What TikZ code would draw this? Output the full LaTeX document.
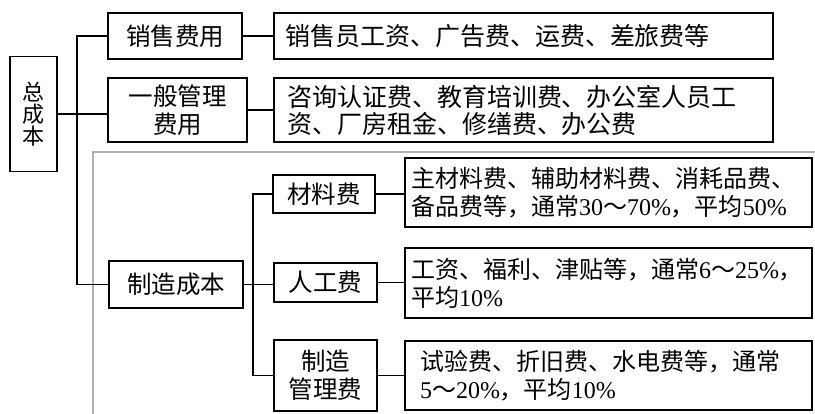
\documentclass[tikz,border=0pt]{standalone}
\usepackage{fontspec}
\setmainfont{Liberation Serif}
\newfontfamily\cjk{Noto Sans CJK SC}
\newcommand\lat[1]{{\rmfamily #1}}
\begin{document}
\begin{tikzpicture}[x=1pt,y=-1pt,
  bx/.style={draw, line width=1.4pt, inner sep=0pt, align=center,
    font=\cjk\fontsize{24.5}{28}\selectfont},
  dt/.style={bx, align=left, font=\cjk\fontsize{24}{28}\selectfont},
  dtw/.style={bx, align=left, font=\cjk\fontsize{25}{27}\selectfont},
  ln/.style={line width=1.4pt},
  frame/.style={draw=black!30, line width=1.8pt}]
\useasboundingbox (0,0) rectangle (815,414);
\fill[white] (0,0) rectangle (815,414);
% gray frame around manufacturing cost
\draw[frame] (93,152) rectangle (840,440);
% left column
\node[bx, minimum width=47, minimum height=115,
      font=\cjk\fontsize{22}{22}\selectfont] (zcb) at (33.5,114) {总\\成\\本};
\node[bx, minimum width=134, minimum height=46] (xsfy) at (175,36) {销售费用};
\node[bx, minimum width=139, minimum height=64] (glfy) at (177.5,110) {一般管理\\费用};
\node[bx, minimum width=134, minimum height=47] (zzcb) at (176,284.5) {制造成本};
% detail boxes
\node[dtw, text width=477, inner xsep=11pt, minimum height=46] (d1) at (523.5,36)
  {销售员工资、广告费、运费、差旅费等};
\node[dtw, text width=473, inner xsep=13pt, minimum height=64] (d2) at (523.5,110)
  {咨询认证费、教育培训费、办公室人员工\\资、厂房租金、修缮费、办公费};
% manufacturing sub-items
\node[bx, minimum width=102, minimum height=38] (clf) at (324,194) {材料费};
\node[bx, minimum width=103, minimum height=39] (rgf) at (325.5,282.5) {人工费};
\node[bx, minimum width=103, minimum height=71] (zzglf) at (325.5,375.5) {制造\\管理费};
\node[dt, text width=395, inner xsep=6pt, minimum height=69] (d3) at (608.5,192.5)
  {主材料费、辅助材料费、消耗品费、\\备品费等，通常\lat{30}～\lat{70\%}，平均\lat{50\%}};
\node[dt, text width=395, inner xsep=6pt, minimum height=70] (d4) at (608.5,283)
  {工资、福利、津贴等，通常\lat{6}～\lat{25\%}，\\平均\lat{10\%}};
\node[dt, text width=377, inner xsep=15pt, minimum height=69] (d5) at (608.5,375.5)
  {试验费、折旧费、水电费等，通常\\\lat{5}～\lat{20\%}，平均\lat{10\%}};
% connectors
\coordinate (tk) at (77,0);
\coordinate (st) at (253,0);
\draw[ln] (zcb.east) -- (zcb.east -| glfy.west);
\draw[ln] (xsfy.west) -| (tk |- zzcb.west) -- (zzcb.west);
\draw[ln] (xsfy.east) -- (d1.west);
\draw[ln] (glfy.east) -- (d2.west);
\draw[ln] (zzcb.east) -- (zzcb.east -| rgf.west);
\draw[ln] (clf.west) -| (st |- zzglf.west) -- (zzglf.west);
\draw[ln] (clf.east) -- (clf.east -| d3.west);
\draw[ln] (rgf.east) -- (rgf.east -| d4.west);
\draw[ln] (zzglf.east) -- (zzglf.east -| d5.west);
\end{tikzpicture}
\end{document}
